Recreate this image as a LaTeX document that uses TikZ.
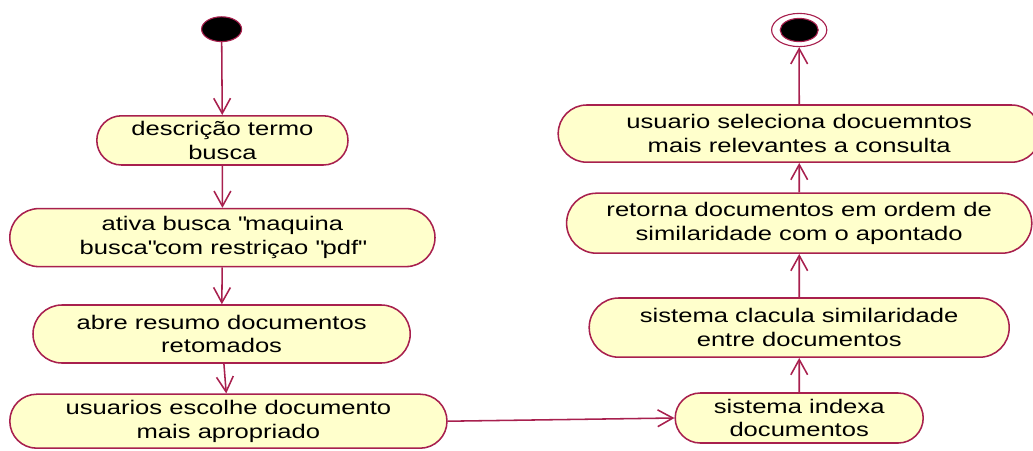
\documentclass[tikz,border=0pt]{standalone}
\usepackage{fontspec}
\setmainfont{Liberation Sans}[FakeStretch=1.3]
\usepackage{tikz}
\usetikzlibrary{shapes.geometric, shapes.misc, arrows.meta}
\definecolor{edgered}{HTML}{A8204E}
\definecolor{actfill}{HTML}{FFFFCC}

\tikzset{
  activity/.style={rounded rectangle, draw=edgered, fill=actfill, line width=1.1pt,
                   align=center, inner sep=0pt, font=\fontsize{14}{17}\selectfont},
  flow/.style={draw=edgered, line width=1.1pt, -{Straight Barb[length=0.38cm, width=0.42cm]}}
}

\begin{document}
\begin{tikzpicture}
  \useasboundingbox (0, 0) rectangle (25.825, -11.25);

  % start and end
  \node[ellipse, draw=edgered, fill=black, line width=0.8pt,
        minimum width=1.0cm, minimum height=0.62cm, inner sep=0pt] (start) at (5.54, -0.73) {};
  \node[ellipse, draw=edgered, line width=0.8pt,
        minimum width=1.38cm, minimum height=0.83cm, inner sep=0pt] (finish) at (19.98, -0.75) {};
  \node[ellipse, draw=edgered, fill=black, line width=0.8pt,
        minimum width=0.95cm, minimum height=0.58cm, inner sep=0pt] (finishdot) at (finish.center) {};

  % left column
  \node[activity, minimum width=6.28cm, minimum height=1.23cm] (termo) at (5.56, -3.51)
    {descrição termo\\busca};
  \node[activity, minimum width=10.63cm, minimum height=1.45cm] (ativa) at (5.56, -5.94)
    {ativa busca \textquotedbl maquina\\busca\textquotedbl com restriçao \textquotedbl pdf\textquotedbl};
  \node[activity, minimum width=9.43cm, minimum height=1.45cm] (resumo) at (5.54, -8.35)
    {abre resumo documentos\\retomados};
  \node[activity, minimum width=10.93cm, minimum height=1.35cm] (escolhe) at (5.71, -10.53)
    {usuarios escolhe documento\\mais apropriado};

  % right column
  \node[activity, minimum width=6.2cm, minimum height=1.25cm] (indexa) at (19.98, -10.45)
    {sistema indexa\\documentos};
  \node[activity, minimum width=10.5cm, minimum height=1.48cm] (calcula) at (19.98, -8.19)
    {sistema clacula similaridade\\entre documentos};
  \node[activity, minimum width=11.63cm, minimum height=1.5cm] (retorna) at (19.98, -5.58)
    {retorna documentos em ordem de\\similaridade com o apontado};
  \node[activity, minimum width=12.05cm, minimum height=1.43cm] (seleciona) at (19.98, -3.34)
    {usuario seleciona docuemntos\\mais relevantes a consulta};

  % transitions
  \draw[flow] (start) -- (termo);
  \draw[flow] (termo) -- (ativa);
  \draw[flow] (ativa) -- (resumo);
  \draw[flow] (resumo) -- (escolhe);
  \draw[flow] (escolhe.east) -- (indexa.west);
  \draw[flow] (indexa) -- (calcula);
  \draw[flow] (calcula) -- (retorna);
  \draw[flow] (retorna) -- (seleciona);
  \draw[flow] (seleciona) -- (finish);
\end{tikzpicture}
\end{document}
